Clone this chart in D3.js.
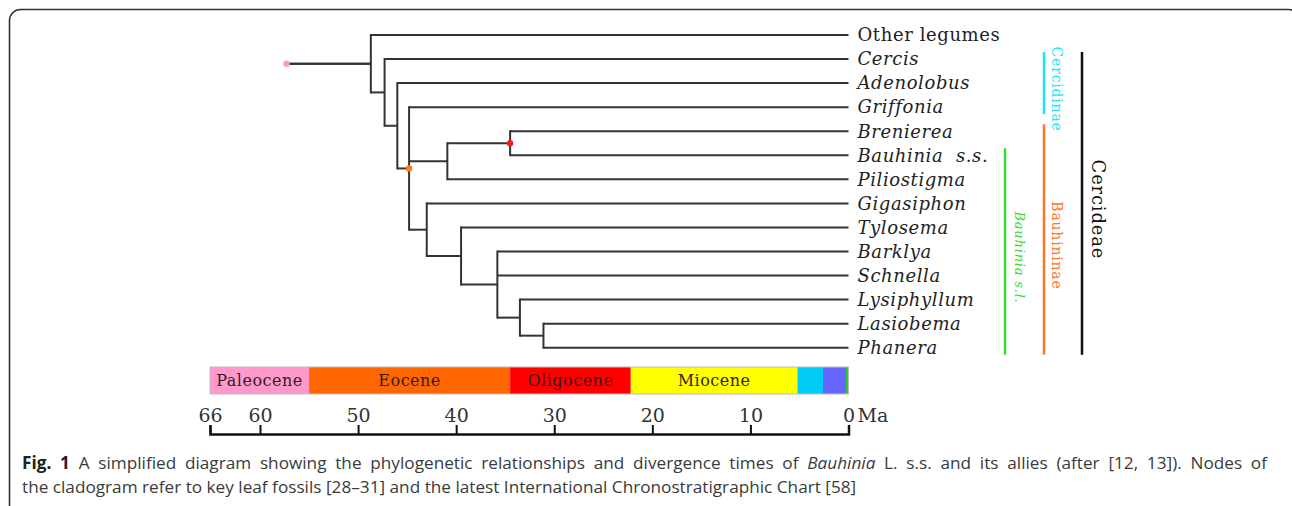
<!DOCTYPE html>
<html>
<head>
<meta charset="utf-8">
<script src="https://cdn.jsdelivr.net/npm/d3@7"></script>
<style>
  body { margin: 0; background: #fff; }
  svg { display: block; }
</style>
</head>
<body>
<div id="figure"></div>
<script>
// tree as a parent table (ages in Ma, tips sit at 0)
var nodeIds     = ["root", "A", "Other legumes", "B", "Cercis", "C", "Adenolobus", "D", "Griffonia",
                   "E", "F", "Brenierea", "Bauhinia s.s.", "Piliostigma", "G", "Gigasiphon", "H", "Tylosema",
                   "I", "Barklya", "Schnella", "J", "Lysiphyllum", "K", "Lasiobema", "Phanera"];
var nodeParents = ["", "root", "A", "A", "B", "B", "C", "C", "D",
                   "D", "E", "F", "F", "E", "D", "G", "G", "H",
                   "H", "I", "I", "I", "J", "J", "K", "K"];
var nodeAges    = [57.3, 48.7, 0, 47.3, 0, 46.0, 0, 44.8, 0,
                   40.9, 34.5, 0, 0, 0, 43.0, 0, 39.5, 0,
                   35.8, 0, 0, 33.5, 0, 31.1, 0, 0];
var uprightTips = ["Other legumes"];

// fossil markers on nodes
var markerNodes  = ["root", "D", "F"];
var markerColors = ["#ff99cc", "#ff7a1a", "#ff1a1a"];

// clade bars
var cladeNames  = ["Cercidinae", "Bauhininae", "Bauhinia s.l.", "Cercideae"];
var cladeFirst  = ["Cercis", "Brenierea", "Bauhinia s.s.", "Cercis"];
var cladeLast   = ["Griffonia", "Phanera", "Phanera", "Phanera"];
var cladeColors = ["#19e6f5", "#ff7426", "#33dd33", "#111111"];

// epochs (start, end in Ma)
var epochNames  = ["Paleocene", "Eocene", "Oligocene", "Miocene", "", "", ""];
var epochStart  = [66, 55, 34.5, 22.2, 5.2, 2.6, 0.25];
var epochEnd    = [55, 34.5, 22.2, 5.2, 2.6, 0.25, 0];
var epochColors = ["#ff99cc", "#ff6600", "#ff0000", "#ffff00", "#00ccf5", "#6666ff", "#22cc22"];

var timeTicks = [66, 60, 50, 40, 30, 20, 10, 0];

var W = 1292, H = 506;

var svg = d3.select("#figure").append("svg")
    .attr("width", W)
    .attr("height", H);

// frame
svg.append("rect")
    .attr("x", 9.5).attr("y", 9.5)
    .attr("width", 1290).attr("height", 520)
    .attr("rx", 11)
    .attr("fill", "none")
    .attr("stroke", "#333")
    .attr("stroke-width", 1.6);

var x = d3.scaleLinear()
    .domain([66, 60, 0])
    .range([210, 260, 848.5]);

var table = nodeIds.map(function(d, i) {
    return {id: d, parent: nodeParents[i], age: nodeAges[i]};
});
var root = d3.stratify()
    .id(function(d) { return d.id; })
    .parentId(function(d) { return d.parent || null; })(table);

var leaves = root.leaves();
var y = d3.scalePoint()
    .domain(leaves.map(function(d) { return d.id; }))
    .range([35, 347.7]);

root.eachAfter(function(n) {
    n.px = x(n.data.age);
    if (n.children) {
        n.py = (n.children[0].py + n.children[n.children.length - 1].py) / 2;
    } else {
        n.py = y(n.id);
    }
});

var gTree = svg.append("g")
    .attr("stroke", "#333")
    .attr("stroke-width", 2)
    .attr("fill", "none");

// horizontal branches
gTree.selectAll("line.h")
    .data(root.descendants().filter(function(d) { return d.parent; }))
    .join("line")
    .attr("class", "h")
    .attr("x1", function(d) { return d.parent.px; })
    .attr("x2", function(d) { return d.px; })
    .attr("y1", function(d) { return d.py; })
    .attr("y2", function(d) { return d.py; });

// vertical connectors
gTree.selectAll("line.v")
    .data(root.descendants().filter(function(d) { return d.children && d.children.length > 1; }))
    .join("line")
    .attr("class", "v")
    .attr("x1", function(d) { return d.px; })
    .attr("x2", function(d) { return d.px; })
    .attr("y1", function(d) { return d.children[0].py - 1; })
    .attr("y2", function(d) { return d.children[d.children.length - 1].py + 1; });

// stem from the root
svg.append("line")
    .attr("stroke", "#333")
    .attr("stroke-width", 2)
    .attr("x1", root.px)
    .attr("x2", root.children[0].px)
    .attr("y1", root.children[0].py)
    .attr("y2", root.children[0].py);

var byId = {};
root.each(function(n) { byId[n.id] = n; });

svg.selectAll("circle.marker")
    .data(markerNodes)
    .join("circle")
    .attr("class", "marker")
    .attr("cx", function(d) { return byId[d].px; })
    .attr("cy", function(d) { return d === "root" ? byId[d].children[0].py : byId[d].py; })
    .attr("r", 3.2)
    .attr("fill", function(d, i) { return markerColors[i]; });

// tip labels
svg.selectAll("text.tip")
    .data(leaves)
    .join("text")
    .attr("class", "tip")
    .attr("x", x(0) + 9)
    .attr("y", function(d) { return d.py; })
    .attr("dy", "0.35em")
    .attr("font-family", "DejaVu Serif")
    .attr("font-size", 18)
    .attr("letter-spacing", 0.6)
    .attr("font-style", function(d) { return uprightTips.indexOf(d.id) >= 0 ? "normal" : "italic"; })
    .attr("fill", "#222")
    .style("white-space", "pre")
    .text(function(d) { return d.id === "Bauhinia s.s." ? "Bauhinia  s.s." : d.id; });

// clade bars
var cladeX    = [1044, 1044, 1005, 1082];
var cladeSize = [14, 14, 13, 18];
var cladeOff  = [13, 13, 15, 16];
var cladePad = 7;

var clades = cladeNames.map(function(d, i) {
    return {
        name: d,
        x: cladeX[i],
        y1: y(cladeFirst[i]) - cladePad,
        y2: y(cladeLast[i]) + cladePad,
        color: cladeColors[i],
        size: cladeSize[i],
        off: cladeOff[i]
    };
});

svg.selectAll("line.clade")
    .data(clades)
    .join("line")
    .attr("class", "clade")
    .attr("x1", function(d) { return d.x; })
    .attr("x2", function(d) { return d.x; })
    .attr("y1", function(d) { return d.y1; })
    .attr("y2", function(d) { return d.y2; })
    .attr("stroke", function(d) { return d.color; })
    .attr("stroke-width", 2.5);

svg.selectAll("text.clade")
    .data(clades)
    .join("text")
    .attr("class", "clade")
    .attr("transform", function(d) {
        return "translate(" + (d.x + d.off) + "," + ((d.y1 + d.y2) / 2 + 6) + ") rotate(90)";
    })
    .attr("text-anchor", "middle")
    .attr("dy", "0.35em")
    .attr("font-family", "DejaVu Serif")
    .attr("font-size", function(d) { return d.size; })
    .attr("letter-spacing", 0.8)
    .attr("font-style", function(d) { return d.name === "Bauhinia s.l." ? "italic" : "normal"; })
    .attr("fill", function(d) { return d.color; })
    .text(function(d) { return d.name; });

// epoch bar
var epochs = epochNames.map(function(d, i) {
    return {name: d, s: epochStart[i], e: epochEnd[i], color: epochColors[i]};
});
var barY = 367, barH = 27;

var gEp = svg.append("g");
gEp.selectAll("rect")
    .data(epochs)
    .join("rect")
    .attr("x", function(d) { return x(d.s); })
    .attr("width", function(d) { return x(d.e) - x(d.s); })
    .attr("y", barY)
    .attr("height", barH)
    .attr("fill", function(d) { return d.color; });

gEp.append("rect")
    .attr("x", x(66)).attr("y", barY)
    .attr("width", x(0) - x(66)).attr("height", barH)
    .attr("fill", "none")
    .attr("stroke", "#bbb")
    .attr("stroke-width", 1);

gEp.selectAll("text")
    .data(epochs.filter(function(d) { return d.name; }))
    .join("text")
    .attr("x", function(d) { return (x(d.s) + x(d.e)) / 2; })
    .attr("y", barY + barH / 2)
    .attr("dy", "0.35em")
    .attr("text-anchor", "middle")
    .attr("font-family", "DejaVu Serif")
    .attr("font-size", 16)
    .attr("letter-spacing", 0.5)
    .attr("fill", "#3a1a1a")
    .text(function(d) { return d.name; });

// time axis
var axis = d3.axisTop(x)
    .tickValues(timeTicks)
    .tickSizeInner(9)
    .tickSizeOuter(9)
    .tickPadding(3)
    .tickFormat(d3.format("d"));

var gAx = svg.append("g")
    .attr("transform", "translate(0,434)")
    .call(axis);

gAx.select(".domain")
    .attr("stroke", "#111")
    .attr("stroke-width", 2.5);
gAx.selectAll(".tick line")
    .attr("stroke", "#111")
    .attr("stroke-width", 2);
gAx.selectAll(".tick text")
    .attr("font-family", "DejaVu Serif")
    .attr("font-size", 19)
    .attr("fill", "#333");

gAx.append("text")
    .attr("x", x(0) + 9)
    .attr("y", -12)
    .attr("text-anchor", "start")
    .attr("font-family", "DejaVu Serif")
    .attr("font-size", 19)
    .attr("fill", "#333")
    .text("Ma");

// caption (first line justified to the frame width)
var cap = svg.append("g")
    .attr("font-family", "Open Sans")
    .attr("font-size", 17.2)
    .attr("fill", "#3a3a3a");

var line1 = cap.append("text").attr("x", 22).attr("y", 469);
line1.append("tspan").attr("font-weight", "bold").attr("fill", "#222").text("Fig. 1");
line1.append("tspan").text(" A simplified diagram showing the phylogenetic relationships and divergence times of ");
line1.append("tspan").attr("font-style", "italic").text("Bauhinia");
line1.append("tspan").text(" L. s.s. and its allies (after [12, 13]). Nodes of");

var spaces = line1.text().split(" ").length - 1;
var natural = line1.node().getComputedTextLength();
line1.attr("word-spacing", Math.max(0, (1267 - 22 - natural) / spaces));

cap.append("text").attr("x", 22).attr("y", 493)
    .text("the cladogram refer to key leaf fossils [28\u201331] and the latest International Chronostratigraphic Chart [58]");
</script>
</body>
</html>
